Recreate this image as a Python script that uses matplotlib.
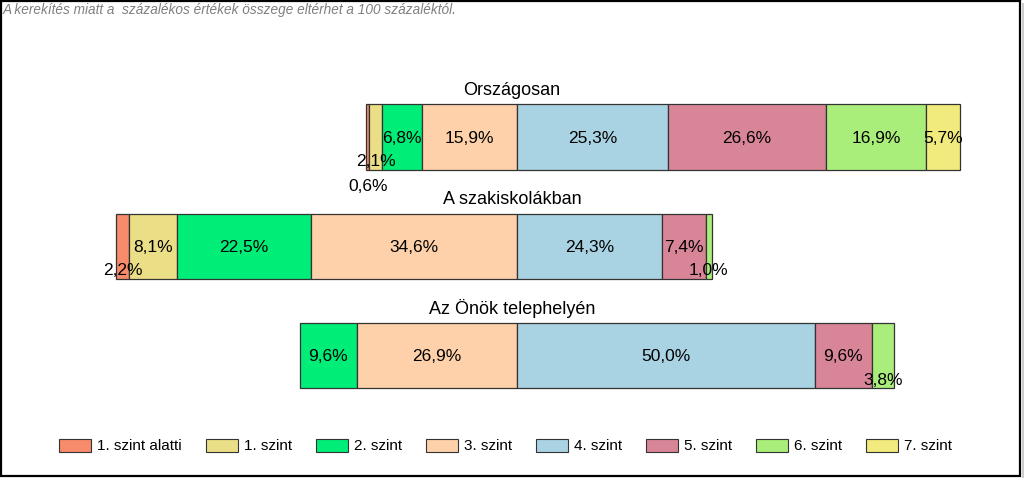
import matplotlib.pyplot as plt
from matplotlib.patches import Rectangle, Patch

plt.rcParams['font.family'] = ['Liberation Sans', 'DejaVu Sans']

levels = ['1. szint alatti', '1. szint', '2. szint', '3. szint',
          '4. szint', '5. szint', '6. szint', '7. szint']
colors = ['#F78B6B', '#EADF86', '#00EE78', '#FFD1AA',
          '#A9D3E3', '#D88598', '#A9EE7A', '#F1EA7C']
groups = ['Országosan', 'A szakiskolákban', 'Az Önök telephelyén']

orszagosan = [0.6, 2.1, 6.8, 15.9, 25.3, 26.6, 16.9, 5.7]
szakiskola = [2.2, 8.1, 22.5, 34.6, 24.3, 7.4, 1.0, 0.0]
telephely = [0.0, 0.0, 9.6, 26.9, 50.0, 9.6, 3.8, 0.0]
values = [orszagosan, szakiskola, telephely]

note = 'A kerekítés miatt a  százalékos értékek összege eltérhet a 100 százaléktól.'

W, H = 1024, 478
fig = plt.figure(figsize=(W / 100, H / 100), dpi=100)

# main axes: x in percent, 0 = boundary between 3. and 4. szint
center_px = 517
px_per_pct = 5.95
row_px = 109.3
first_px = 137
ax = fig.add_axes([0, 0, 1, 1])
ax.set_xlim(-center_px / px_per_pct, (W - center_px) / px_per_pct)
ax.set_ylim((H - first_px) / row_px, -first_px / row_px)
ax.axis('off')

bar_h = 0.6
lab_fs = 12.5
for i, vals in enumerate(values):
    left = -sum(vals[:4])
    small = []
    for k, v in enumerate(vals):
        if v > 0:
            ax.barh(i, v, left=left, height=bar_h, color=colors[k],
                    edgecolor='#333333', linewidth=0.9)
            xc = left + v / 2
            if v >= 5:
                ax.text(xc, i + 0.01, f'{v:.1f}%'.replace('.', ','),
                        ha='center', va='center', fontsize=lab_fs)
            else:
                small.append((xc, v))
        left += v
    # small values: below center, staggered when they collide
    last_x = None
    for xc, v in reversed(small):
        lvl = 1
        if last_x is not None and (last_x - xc) * px_per_pct < 40:
            lvl = 2
            last_x = None
        else:
            last_x = xc
        ax.text(xc, i + 0.225 * lvl, f'{v:.1f}%'.replace('.', ','),
                ha='center', va='center', fontsize=lab_fs)
    ax.text((W / 2 - center_px) / px_per_pct, i - 0.43, groups[i],
            ha='center', va='center', fontsize=13)

# overlay in pixel coordinates for note and frame
ov = fig.add_axes([0, 0, 1, 1])
ov.set_xlim(0, W)
ov.set_ylim(H, 0)
ov.axis('off')
ov.patch.set_alpha(0)

ov.text(3, 10, note, fontsize=9.8, style='italic', color='#7F7F7F',
        ha='left', va='center')

handles = [Patch(facecolor=c, edgecolor='#333333', linewidth=0.8)
           for c in colors]
fs = 11
px = fs * 100 / 72
fig.legend(handles, levels, loc='center left', ncol=8, frameon=False,
           fontsize=fs, bbox_to_anchor=(59 / W, 1 - 446 / H),
           borderpad=0, borderaxespad=0,
           handlelength=32 / px, handleheight=14 / px,
           handletextpad=6 / px, columnspacing=24 / px)

ov.add_patch(Rectangle((0.8, 0.8), 1019.5, 475, fill=False,
                       edgecolor='black', linewidth=1.6))
ov.add_patch(Rectangle((1021.5, 3), 2, 475, facecolor='#CCCCCC',
                       edgecolor='none'))

fig.savefig('out.png', dpi=100)
